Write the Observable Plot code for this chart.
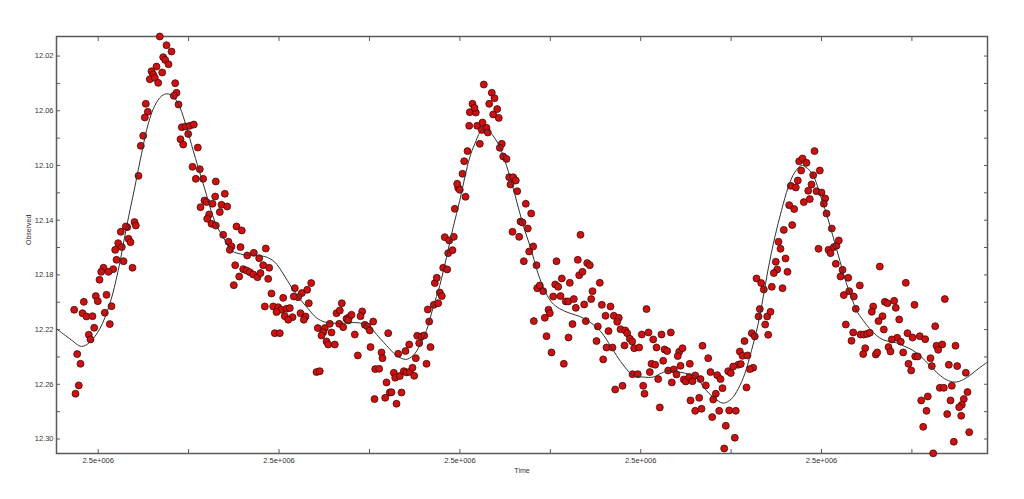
<!DOCTYPE html>
<html><head><meta charset="utf-8">
<script src="https://cdn.jsdelivr.net/npm/d3@7"></script>
<script src="https://cdn.jsdelivr.net/npm/@observablehq/plot@0.6"></script>
<style>html,body{margin:0;padding:0;background:#fff;}#chart{width:1024px;height:499px;}</style>
</head><body><div id="chart"></div>
<script>
// Times are days relative to an arbitrary epoch (JD - epochJD); magnitudes are "Observed".
const epochJD = 2450900;
const observed = [
[159.3,12.0057],[166.0,12.0121],[171.0,12.0167],[162.7,12.0208],[164.7,12.0228],[168.0,12.0260],[156.0,12.0277],[151.0,12.0311],[152.7,12.0335],[149.3,12.0369],
[154.3,12.0359],[157.7,12.0396],[161.7,12.0320],[174.7,12.0398],[176.0,12.0469],[173.3,12.0491],[145.3,12.0549],[147.3,12.0608],[144.3,12.0649],[178.0,12.0554],
[142.7,12.0783],[140.3,12.0856],[181.3,12.0720],[185.3,12.0715],[189.3,12.0710],[193.3,12.0701],[187.7,12.0769],[180.0,12.0808],[182.7,12.0847],[197.3,12.0869],
[192.0,12.1010],[199.3,12.1027],[195.3,12.1098],[202.7,12.1098],[215.3,12.1117],[214.7,12.1227],[204.0,12.1256],[206.0,12.1268],[212.0,12.1280],[200.0,12.1305],
[208.7,12.1358],[206.7,12.1390],[211.0,12.1427],[215.3,12.1439],[138.0,12.1076],[134.0,12.1414],[135.3,12.1439],[126.7,12.1451],[125.3,12.1446],[120.3,12.1485],
[128.0,12.1536],[130.0,12.1561],[117.7,12.1568],[121.3,12.1597],[114.7,12.1617],[116.0,12.1690],[123.0,12.1700],[112.7,12.1758],[103.0,12.1748],[100.7,12.1778],
[108.0,12.1778],[132.0,12.1748],[99.0,12.1836],[106.0,12.1946],[95.3,12.1955],[97.3,12.1992],[83.3,12.1997],[111.0,12.2029],[73.7,12.2055],[104.3,12.2077],
[82.0,12.2080],[86.0,12.2104],[92.0,12.2102],[109.3,12.2160],[93.7,12.2187],[88.3,12.2238],[90.0,12.2272],[76.7,12.2379],[80.0,12.2450],[78.3,12.2608],[75.0,12.2669],
[224.3,12.1207],[221.0,12.1288],[226.7,12.1300],[219.3,12.1341],[222.7,12.1507],[236.0,12.1446],[241.3,12.1475],[228.0,12.1558],[231.0,12.1592],[229.3,12.1617],
[240.0,12.1597],[246.7,12.1658],[253.3,12.1639],[258.7,12.1678],[265.3,12.1607],[234.7,12.1729],[242.7,12.1758],[246.0,12.1768],[249.3,12.1780],[252.7,12.1797],
[257.0,12.1817],[260.0,12.1787],[262.7,12.1729],[268.7,12.1748],[238.7,12.1812],[267.7,12.1829],[233.3,12.1875],[294.3,12.1897],[306.7,12.1909],[310.7,12.1860],
[301.3,12.1933],[297.7,12.1963],[293.3,12.1958],[282.7,12.1968],[271.0,12.1936],[308.3,12.2007],[264.3,12.2031],[272.7,12.2031],[277.7,12.2036],[281.0,12.2055],
[276.0,12.2072],[286.0,12.2048],[289.3,12.2043],[300.0,12.2080],[284.3,12.2102],[292.0,12.2109],[287.7,12.2128],[305.0,12.2104],[303.3,12.2128],[274.3,12.2226],
[279.3,12.2226],[317.3,12.2189],[324.3,12.2189],[322.7,12.2219],[321.0,12.2243],[331.0,12.2221],[329.3,12.2158],[338.7,12.2158],[342.7,12.2182],[326.0,12.2287],
[327.7,12.2309],[334.3,12.2309],[341.3,12.2007],[336.0,12.2080],[339.3,12.2060],[346.0,12.2121],[348.7,12.2109],[351.0,12.2092],[347.7,12.2133],[354.3,12.2236],
[361.7,12.2067],[360.0,12.2102],[364.3,12.2165],[367.0,12.2177],[369.3,12.2206],[372.7,12.2141],[357.3,12.2389],[370.0,12.2328],[316.0,12.2511],[319.3,12.2504],
[374.7,12.2489],[374.0,12.2708],
[387.7,12.2226],[381.0,12.2367],[382.0,12.2409],[378.7,12.2487],[397.7,12.2377],[405.0,12.2357],[408.7,12.2309],[415.3,12.2409],[416.7,12.2245],[418.7,12.2299],
[421.0,12.2250],[423.7,12.2243],[430.0,12.2328],[426.0,12.2450],[393.3,12.2516],[394.7,12.2552],[399.3,12.2540],[403.3,12.2504],[406.0,12.2513],[409.3,12.2509],
[412.0,12.2479],[413.7,12.2538],[386.0,12.2586],[389.3,12.2660],[391.0,12.2658],[401.0,12.2660],[384.7,12.2699],[396.0,12.2742],[427.3,12.2053],[428.7,12.2141],
[433.3,12.2019],[437.7,12.2007],[439.3,12.1929],[441.3,12.1955],[434.3,12.1860],[436.3,12.1821],[442.7,12.1748],[446.7,12.1760],[447.7,12.1641],[452.0,12.1619],
[444.3,12.1524],[448.7,12.1548],[453.3,12.1522],[454.3,12.1317],[457.7,12.1164],[459.3,12.1178],[456.7,12.1134],[465.0,12.1229],[462.0,12.1061],[463.7,12.0969],
[467.0,12.0895],[468.7,12.0710],[469.3,12.0610],[475.3,12.0613],[472.0,12.0549],[474.0,12.0579],[476.7,12.0710],[479.3,12.0842],[481.3,12.0740],[482.0,12.0686],
[486.0,12.0725],[487.3,12.0759],[483.3,12.0408],[491.3,12.0469],[494.0,12.0508],[488.7,12.0549],[492.7,12.0627],[496.7,12.0588],[498.3,12.0652],[501.3,12.0842],
[499.3,12.0871],[502.7,12.0934],[506.0,12.0952],[508.7,12.1086],[512.7,12.1086],[515.3,12.1110],[510.0,12.1139],[516.7,12.1188],[525.3,12.1280],[530.7,12.1351],
[520.0,12.1410],[522.0,12.1417],[527.3,12.1461],[512.0,12.1485],[518.7,12.1522],[532.7,12.1592],[528.7,12.1629],[523.3,12.1700],[536.0,12.1729],[536.7,12.1897],
[533.3,12.2138],
[580.0,12.1507],[556.0,12.1700],[577.3,12.1690],[586.7,12.1714],[589.3,12.1729],[578.7,12.1802],[582.0,12.1778],[561.3,12.1826],[569.3,12.1858],[554.7,12.1870],
[557.7,12.1887],[539.3,12.1877],[542.7,12.1919],[599.3,12.1858],[592.0,12.1919],[552.7,12.1958],[560.0,12.1955],[565.3,12.1994],[567.7,12.1994],[573.3,12.1977],
[590.7,12.1977],[583.7,12.2016],[575.3,12.2041],[601.3,12.2019],[610.0,12.2031],[548.0,12.2055],[549.3,12.2080],[544.3,12.2114],[572.0,12.2160],[585.3,12.2138],
[605.0,12.2099],[613.3,12.2099],[618.3,12.2114],[616.7,12.2143],[597.3,12.2177],[608.0,12.2211],[620.0,12.2197],[624.7,12.2206],[626.7,12.2226],[646.0,12.2050],
[546.0,12.2248],[568.0,12.2258],[596.0,12.2284],[629.3,12.2267],[631.7,12.2287],[624.0,12.2316],[606.0,12.2331],[612.0,12.2331],[633.7,12.2336],[638.7,12.2331],
[641.3,12.2236],[648.0,12.2221],[652.7,12.2272],[656.0,12.2331],[661.0,12.2236],[670.3,12.2221],[551.0,12.2367],[563.3,12.2450],[602.7,12.2418],[664.0,12.2345],
[666.7,12.2357],[678.7,12.2362],[682.0,12.2336],[677.3,12.2394],[662.7,12.2428],[651.0,12.2450],[654.7,12.2457],[649.3,12.2511],[680.0,12.2465],[689.3,12.2450],
[667.7,12.2499],[673.3,12.2491],[676.0,12.2528],[671.3,12.2586],[657.7,12.2562],[632.0,12.2526],[637.3,12.2526],[683.3,12.2565],[685.3,12.2579],[688.7,12.2547],
[692.0,12.2577],[694.7,12.2535],[614.7,12.2638],[622.0,12.2611],[642.7,12.2611],[644.0,12.2669],[659.3,12.2769],[690.0,12.2718],[694.7,12.2794],
[814.0,12.0895],[798.7,12.0969],[802.0,12.0949],[806.0,12.0981],[800.7,12.1037],[819.3,12.1037],[812.7,12.1071],[811.0,12.1139],[797.3,12.1110],[790.3,12.1149],
[795.3,12.1161],[807.7,12.1185],[816.0,12.1188],[821.0,12.1198],[803.3,12.1268],[809.3,12.1246],[824.7,12.1241],[823.3,12.1280],[788.7,12.1290],[793.7,12.1319],
[826.0,12.1351],[783.3,12.1471],[791.7,12.1436],[831.3,12.1461],[778.0,12.1558],[780.0,12.1609],[818.0,12.1609],[828.0,12.1617],[830.0,12.1641],[833.3,12.1597],
[836.0,12.1587],[838.3,12.1548],[835.3,12.1719],[785.0,12.1680],[775.3,12.1704],[776.7,12.1760],[773.3,12.1787],[787.0,12.1778],[842.0,12.1763],[840.0,12.1812],
[847.7,12.1821],[756.0,12.1826],[760.7,12.1860],[763.3,12.1907],[771.3,12.1887],[782.0,12.1897],[843.3,12.1948],[848.7,12.1919],[853.3,12.1958],[759.3,12.2050],
[758.0,12.2104],[766.7,12.2104],[770.0,12.2070],[764.7,12.2163],[767.7,12.2238],[845.3,12.2163],[852.7,12.2221],[851.0,12.2282],[855.3,12.2048],[751.3,12.2226],
[754.3,12.2250],[744.0,12.2284],[702.0,12.2318],[707.7,12.2409],[739.3,12.2360],[742.0,12.2392],[747.0,12.2389],[737.7,12.2457],[740.3,12.2452],[732.7,12.2470],
[727.7,12.2504],[730.3,12.2518],[752.7,12.2479],[749.3,12.2489],[710.0,12.2511],[716.7,12.2533],[720.0,12.2562],[705.3,12.2608],[700.0,12.2562],[722.0,12.2628],
[746.0,12.2623],[715.3,12.2669],[698.7,12.2699],[712.7,12.2711],[701.0,12.2779],[718.7,12.2794],[728.7,12.2791],[735.3,12.2794],[711.7,12.2840],[725.3,12.2903],
[734.3,12.2991],[723.7,12.3069],
[879.3,12.1739],[905.3,12.1858],[859.3,12.1877],[944.3,12.1977],[884.3,12.1997],[887.0,12.2007],[893.7,12.1990],[895.3,12.2041],[872.7,12.2031],[871.3,12.2070],
[882.0,12.2102],[878.0,12.2138],[898.7,12.2126],[914.0,12.2019],[883.3,12.2199],[934.7,12.2175],[907.0,12.2226],[912.0,12.2258],[919.3,12.2248],[924.7,12.2270],
[896.7,12.2260],[891.3,12.2272],[900.3,12.2289],[860.0,12.2236],[863.3,12.2236],[866.7,12.2231],[869.3,12.2223],[888.0,12.2328],[890.0,12.2360],[864.7,12.2336],
[862.7,12.2379],[875.3,12.2382],[876.7,12.2367],[902.7,12.2367],[936.0,12.2318],[941.7,12.2309],[955.0,12.2318],[937.7,12.2348],[914.7,12.2396],[917.3,12.2396],
[908.0,12.2450],[910.7,12.2499],[930.0,12.2409],[931.3,12.2467],[948.3,12.2457],[956.7,12.2467],[965.3,12.2516],[939.3,12.2626],[943.3,12.2626],[951.3,12.2611],
[967.0,12.2657],[920.7,12.2718],[927.3,12.2689],[950.0,12.2718],[963.3,12.2708],[961.3,12.2750],[958.7,12.2767],[926.0,12.2794],[946.7,12.2818],[960.7,12.2830],
[922.7,12.2911],[968.7,12.2950],[953.3,12.3020],[932.7,12.3105]
];
const fit = [
[56.0,12.2194],[69.3,12.2267],[81.0,12.2323],[89.3,12.2292],[99.3,12.2194],[109.3,12.2011],[117.7,12.1768],[126.0,12.1451],[134.3,12.1159],[141.0,12.0915],
[147.7,12.0696],[154.3,12.0562],[161.0,12.0493],[166.7,12.0476],[172.7,12.0496],[179.3,12.0574],[186.0,12.0720],[192.7,12.0891],[202.7,12.1134],[215.3,12.1427],
[222.7,12.1524],[231.0,12.1622],[242.7,12.1651],[256.0,12.1658],[266.0,12.1670],[274.3,12.1707],[282.7,12.1792],[291.0,12.1890],[299.3,12.1975],[307.7,12.2048],
[316.0,12.2114],[324.3,12.2145],[332.7,12.2153],[342.7,12.2153],[352.7,12.2148],[362.7,12.2158],[371.0,12.2194],[376.0,12.2235],[386.0,12.2316],[396.0,12.2389],
[405.3,12.2418],[412.7,12.2389],[419.3,12.2316],[426.0,12.2206],[432.7,12.2036],[439.3,12.1877],[446.0,12.1670],[452.7,12.1451],[459.3,12.1256],[464.3,12.1086],
[469.3,12.0939],[474.3,12.0842],[481.0,12.0744],[486.0,12.0737],[491.0,12.0769],[497.7,12.0842],[504.3,12.0964],[511.0,12.1122],[517.7,12.1305],[524.3,12.1475],
[531.0,12.1622],[536.0,12.1755],[542.7,12.1890],[551.0,12.1999],[559.3,12.2048],[569.3,12.2080],[579.3,12.2104],[589.3,12.2145],[599.3,12.2206],[607.7,12.2292],
[616.0,12.2389],[624.3,12.2474],[632.7,12.2535],[642.7,12.2547],[652.7,12.2547],[661.0,12.2518],[669.3,12.2499],[679.3,12.2511],[689.3,12.2528],[696.0,12.2547],
[704.3,12.2633],[712.7,12.2694],[722.7,12.2738],[731.0,12.2706],[737.7,12.2633],[744.3,12.2523],[751.0,12.2353],[757.7,12.2158],[762.7,12.1963],[767.7,12.1756],
[774.3,12.1524],[781.0,12.1329],[787.7,12.1159],[794.3,12.1049],[801.0,12.1000],[804.3,12.1008],[809.3,12.1037],[814.3,12.1098],[819.3,12.1207],[826.0,12.1354],
[832.7,12.1524],[839.3,12.1695],[846.0,12.1865],[852.7,12.1999],[856.0,12.2060],[862.7,12.2133],[869.3,12.2194],[876.0,12.2243],[882.7,12.2275],[889.3,12.2287],
[896.0,12.2297],[904.3,12.2323],[912.7,12.2353],[921.0,12.2401],[929.3,12.2462],[937.7,12.2523],[946.0,12.2567],[954.3,12.2584],[961.0,12.2572],[969.3,12.2535],
[977.7,12.2487],[986.7,12.2438]
];
const timeDomain = [56, 987];
const magDomain = [12.0057, 12.3106];
const xTicks = [97.7, 188.1, 278.5, 369.0, 459.4, 549.8, 640.2, 730.6, 821.0, 911.4];
const xLabelTicks = [97.7, 278.5, 459.4, 640.2, 821.0];
const xTickLabel = "2.5e+006";
const yTicks = [12.02, 12.04, 12.06, 12.08, 12.10, 12.12, 12.14, 12.16, 12.18, 12.20, 12.22, 12.24, 12.26, 12.28, 12.30];
const yLabelTicks = [12.02, 12.06, 12.10, 12.14, 12.18, 12.22, 12.26, 12.30];
const xTitle = "Time";
const yTitle = "Observed";

const axisColor = "#5a5a5a";
const textColor = "#333";
const chart = Plot.plot({
  width: 1024, height: 499,
  marginLeft: 56, marginRight: 37, marginTop: 36, marginBottom: 46,
  style: {fontFamily: "'Liberation Sans', Arial, sans-serif", background: "#fff", color: textColor},
  x: {domain: timeDomain, axis: null},
  y: {domain: magDomain, reverse: true, axis: null},
  marks: [
    Plot.axisY(yTicks, {anchor: "left", tickSize: -4, tickFormat: () => "", stroke: axisColor, label: null}),
    Plot.axisY(yTicks, {anchor: "right", tickSize: -4, tickFormat: () => "", stroke: axisColor, label: null}),
    Plot.axisY(yLabelTicks, {anchor: "left", tickSize: 0, tickPadding: 3, tickFormat: d3.format(".2f"), fontSize: 7.5, fill: textColor, label: null}),
    Plot.axisX(xTicks, {anchor: "bottom", tickSize: -4, tickFormat: () => "", stroke: axisColor, label: null}),
    Plot.axisX(xTicks, {anchor: "top", tickSize: -4, tickFormat: () => "", stroke: axisColor, label: null}),
    Plot.axisX(xLabelTicks, {anchor: "bottom", tickSize: 0, tickPadding: 4, tickFormat: () => xTickLabel, fontSize: 7.5, fill: textColor, label: null}),
    Plot.frame({stroke: axisColor, strokeWidth: 1.5}),
    Plot.text([yTitle], {text: d => d, frameAnchor: "left", rotate: -90, dx: -28, fontSize: 7, fill: textColor}),
    Plot.text([xTitle], {text: d => d, frameAnchor: "bottom", dy: 19, fontSize: 7, fill: textColor}),
    Plot.dot(observed, {x: d => d[0], y: d => d[1], r: 3.5, fill: "#cc1111", stroke: "#3a0000", strokeWidth: 0.7}),
    Plot.line(fit, {x: d => d[0], y: d => d[1], curve: "catmull-rom", stroke: "#333", strokeWidth: 1})
  ]
});
document.getElementById("chart").appendChild(chart);
</script>
</body></html>
